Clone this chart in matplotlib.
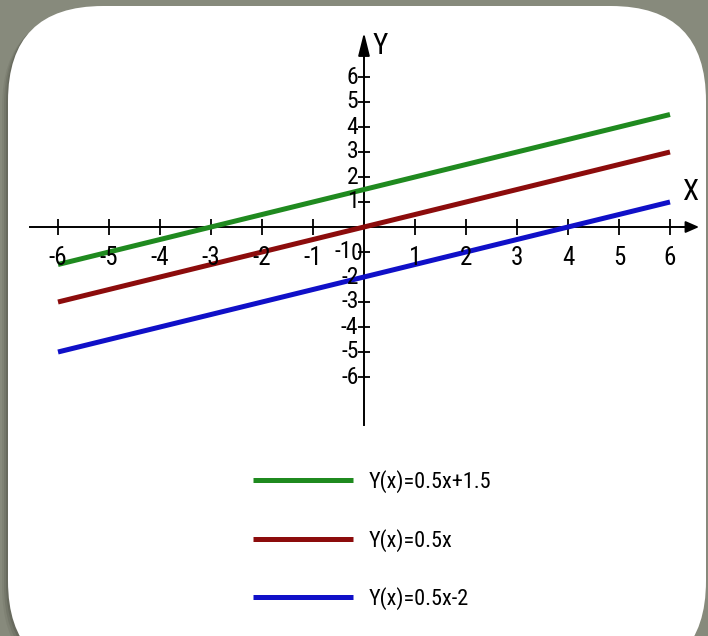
import numpy as np
import matplotlib.pyplot as plt
from matplotlib import font_manager
from matplotlib.patches import FancyBboxPatch

# pick a narrow face if one is installed
installed = {f.name for f in font_manager.fontManager.ttflist}
narrow = [n for n in ['Liberation Sans Narrow', 'Roboto Condensed', 'Open Sans Condensed',
                      'Noto Sans Condensed', 'DejaVu Sans Condensed', 'Arial Narrow']
          if n in installed]
plt.rcParams['font.family'] = narrow + ['Roboto', 'DejaVu Sans']
plt.rcParams['font.stretch'] = 'condensed'

# data
x = np.array([-6, 6])
slope = 0.5
intercepts = [1.5, 0.0, -2.0]
labels = ['Y(x)=0.5x+1.5', 'Y(x)=0.5x', 'Y(x)=0.5x-2']
colors = ['#1f8a1f', '#8c0c0c', '#1010c8']
xticks = [-6, -5, -4, -3, -2, -1, 1, 2, 3, 4, 5, 6]
yticks = [-6, -5, -4, -3, -2, -1, 1, 2, 3, 4, 5, 6]

W, H = 708, 636
fig = plt.figure(figsize=(W / 100, H / 100), dpi=100)
fig.patch.set_facecolor('#878a7c')

# card with a soft shadow (pixel coords, origin bottom-left)
for d, a in [(6, 0.08), (4, 0.12), (2, 0.16)]:
    fig.patches.append(FancyBboxPatch((8 - d, -40 - d), 698, 670,
                                      boxstyle='round,pad=0,rounding_size=95',
                                      transform=None, facecolor='#2a2c22',
                                      edgecolor='none', alpha=a, zorder=0))
fig.patches.append(FancyBboxPatch((8, -40), 698, 670,
                                  boxstyle='round,pad=0,rounding_size=95',
                                  transform=None, facecolor='white',
                                  edgecolor='none', zorder=0.5))

# axes: origin at pixel (364, 227), 51 px per x unit, 25 px per y unit
x0, y0, sx, sy = 364, 227, 51, 25
ax = fig.add_axes([0, 0, 1, 1])
ax.set_zorder(2)
ax.set_xlim(-x0 / sx, (W - x0) / sx)
ax.set_ylim(-(H - y0) / sy, y0 / sy)
ax.set_facecolor('none')
ax.axis('off')

for b, lab, c in zip(intercepts, labels, colors):
    ax.plot(x, slope * x + b, color=c, linewidth=3.6, solid_capstyle='butt',
            label=lab, zorder=3)

# coordinate axes with arrows
ax.plot([-6.55, 6.3], [0, 0], color='black', linewidth=1.4, zorder=2)
ax.annotate('', xy=(6.57, 0), xytext=(6.2, 0),
            arrowprops=dict(arrowstyle='-|>,head_length=0.8,head_width=0.35',
                            color='black', lw=1.4, shrinkA=0, shrinkB=0))
ax.plot([0, 0], [-7.92, 6.9], color='black', linewidth=1.4, zorder=2)
ax.annotate('', xy=(0, 7.78), xytext=(0, 6.8),
            arrowprops=dict(arrowstyle='-|>,head_length=1.4,head_width=0.35',
                            color='black', lw=1.4, shrinkA=0, shrinkB=0))

ax.plot(xticks, np.zeros(len(xticks)), linestyle='none', marker='|',
        markersize=11, markeredgewidth=1.3, color='black', zorder=2)
ax.plot(np.zeros(len(yticks)), yticks, linestyle='none', marker='_',
        markersize=8.5, markeredgewidth=1.3, color='black', zorder=2)

for t in xticks:
    ax.annotate(str(t), (t, 0), xytext=(0, -22), textcoords='offset points',
                ha='center', va='center', fontsize=18)
for t in yticks:
    dx = -9 if t == -1 else -4
    ax.annotate(str(t), (0, t), xytext=(dx, 0), textcoords='offset points',
                ha='right', va='center', fontsize=17)
ax.annotate('0', (0, 0), xytext=(-1, -19), textcoords='offset points',
            ha='right', va='center', fontsize=17)

ax.annotate('X', (6.4, 1.4), ha='center', va='center', fontsize=21)
ax.annotate('Y', (0.32, 7.25), ha='center', va='center', fontsize=21)

ax.legend(loc='upper left', bbox_to_anchor=(253 / W, 1 - 470 / H),
          frameon=False, fontsize=16, handlelength=4.5, handletextpad=0.7,
          labelspacing=1.6, borderpad=0, borderaxespad=0)

fig.savefig('out.png', dpi=100, facecolor=fig.get_facecolor())
